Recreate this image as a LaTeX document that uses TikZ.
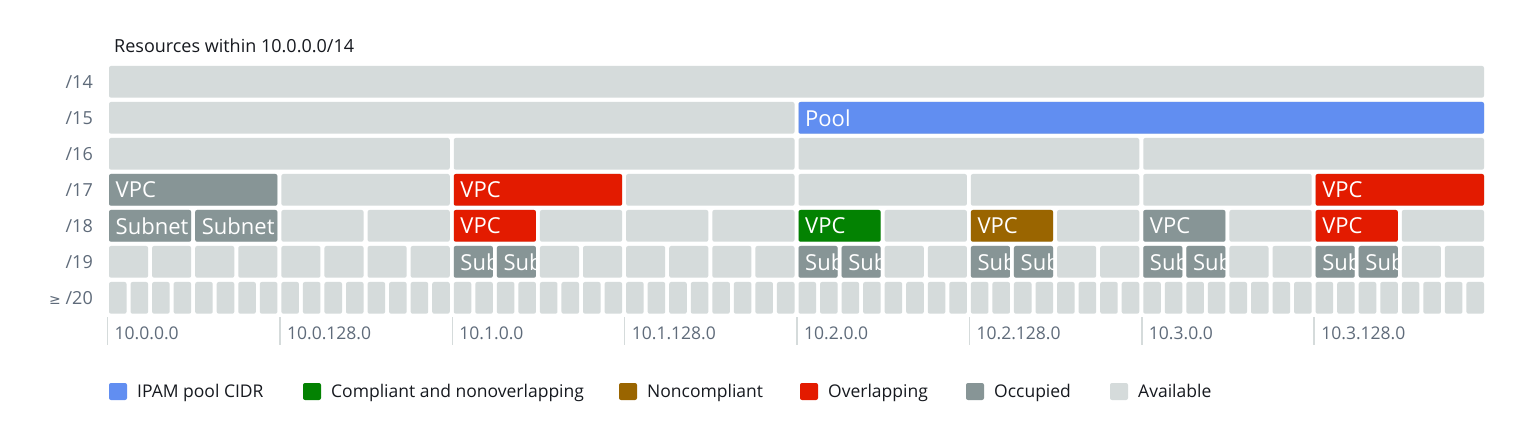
\documentclass[tikz,border=0pt]{standalone}
\usepackage{fontspec}
\setmainfont{Open Sans}
\newfontfamily\symf{DejaVu Sans}
\definecolor{avail}{HTML}{D5DBDB}
\definecolor{occ}{HTML}{879596}
\definecolor{poolc}{HTML}{618EF1}
\definecolor{redc}{HTML}{E31B00}
\definecolor{greenc}{HTML}{038202}
\definecolor{brownc}{HTML}{9A6500}
\definecolor{labc}{HTML}{5F6B7A}
\definecolor{darkc}{HTML}{16191F}
\definecolor{tickc}{HTML}{D5DBDB}
\newcommand\ccell[4]{%
  \pgfmathsetmacro\cst{1379/(2^#1)}%
  \pgfmathsetmacro\cxa{109+#2*\cst}%
  \pgfmathsetmacro\cw{\cst-4}%
  \pgfmathsetmacro\cyc{66+#1*36+15.85}%
  \node[cellbox, fill=#3, minimum width=\cw pt, anchor=north west] (v-#1-#2) at (\cxa, 66+#1*36) {};%
  \begin{scope}
    \clip (v-#1-#2.north west) rectangle (v-#1-#2.south east);
    \node[celltext] (vt-#1-#2) at (\cxa+6.5, \cyc) {#4};
  \end{scope}%
}
\begin{document}
\begin{tikzpicture}[x=1pt,y=-1pt,
  cellbox/.style={draw=none, inner sep=0pt, outer sep=0pt, minimum height=31.7pt, rounded corners=2pt},
  celltext/.style={anchor=west, inner sep=0pt, text=white, font=\fontsize{22}{26}\selectfont},
  rowlab/.style={anchor=base east, inner sep=0pt, text=labc, font=\fontsize{18}{21}\selectfont},
  axlab/.style={anchor=base west, inner sep=0pt, text=labc, font=\fontsize{17.5}{21}\selectfont},
  leglab/.style={anchor=base west, inner sep=0pt, text=darkc, font=\fontsize{17.5}{21}\selectfont},
  legsq/.style={draw=none, inner sep=0pt, outer sep=0pt, minimum width=18pt, minimum height=17pt, rounded corners=2pt, anchor=north west},
  tickline/.style={draw=tickc, line width=1.5pt}]
\useasboundingbox (0,0) rectangle (1536,438);
\fill[white] (0,0) rectangle (1536,438);
% title
\node[anchor=base west, inner sep=0pt, text=darkc, font=\fontsize{18}{21}\selectfont] (title) at (114,52.5) {Resources within 10.0.0.0/14};
% row labels
\foreach \lab [count=\r from 0] in {/14,/15,/16,/17,/18,/19,{{\symf\fontsize{14}{17}\selectfont ≥} /20}} {
  \node[rowlab] (lab\r) at (93, 66+\r*36+22.5) {\lab};
}
% available cells
\foreach \r in {0,...,6} {
  \pgfmathtruncatemacro\N{2^\r}
  \pgfmathsetmacro\st{1379/\N}
  \pgfmathtruncatemacro\kmax{\N-1}
  \pgfmathsetmacro\w{\st-4}
  \foreach \k in {0,...,\kmax} {
    \pgfmathsetmacro\xa{109+\k*\st}
    \node[cellbox, fill=avail, minimum width=\w pt, anchor=north west] (c-\r-\k) at (\xa, 66+\r*36) {};
  }
}
% coloured cells
\ccell{1}{1}{poolc}{Pool}
\ccell{3}{0}{occ}{VPC}
\ccell{3}{2}{redc}{VPC}
\ccell{3}{7}{redc}{VPC}
\ccell{4}{0}{occ}{Subnet}
\ccell{4}{1}{occ}{Subnet}
\ccell{4}{4}{redc}{VPC}
\ccell{4}{8}{greenc}{VPC}
\ccell{4}{10}{brownc}{VPC}
\ccell{4}{12}{occ}{VPC}
\ccell{4}{14}{redc}{VPC}
\ccell{5}{8}{occ}{Sub}
\ccell{5}{9}{occ}{Sub}
\ccell{5}{16}{occ}{Sub}
\ccell{5}{17}{occ}{Sub}
\ccell{5}{20}{occ}{Sub}
\ccell{5}{21}{occ}{Sub}
\ccell{5}{24}{occ}{Sub}
\ccell{5}{25}{occ}{Sub}
\ccell{5}{28}{occ}{Sub}
\ccell{5}{29}{occ}{Sub}
% axis
\foreach \lab [count=\k from 0] in {10.0.0.0,10.0.128.0,10.1.0.0,10.1.128.0,10.2.0.0,10.2.128.0,10.3.0.0,10.3.128.0} {
  \pgfmathsetmacro\xt{107.5+\k*172.375}
  \coordinate (ta\k) at (\xt,317);
  \coordinate (tb\k) at (\xt,345);
  \draw[tickline] (ta\k) -- (tb\k);
  \node[axlab] (ax\k) at (\xt+7, 339.5) {\lab};
}
% legend
\foreach \xs/\col/\txt [count=\i] in {109/poolc/IPAM pool CIDR, 303/greenc/Compliant and nonoverlapping, 619/brownc/Noncompliant, 800/redc/Overlapping, 966/occ/Occupied, 1110/avail/Available} {
  \node[legsq, fill=\col] (lsq\i) at (\xs,383) {};
  \node[leglab] (ltx\i) at (\xs+28,397.5) {\txt};
}
\end{tikzpicture}
\end{document}
